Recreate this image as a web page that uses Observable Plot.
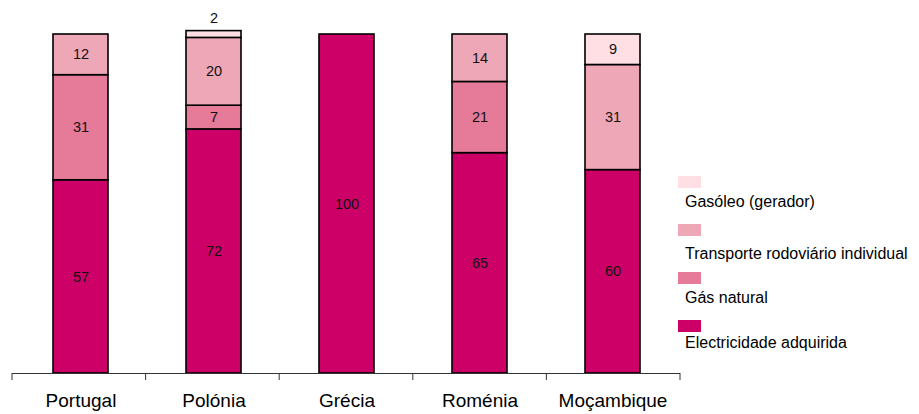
<!DOCTYPE html>
<html>
<head>
<meta charset="utf-8">
<script src="https://cdn.jsdelivr.net/npm/d3@7"></script>
<script src="https://cdn.jsdelivr.net/npm/@observablehq/plot@0.6"></script>
<style>
  html, body { margin: 0; padding: 0; background: #fff; }
  #wrap { position: relative; width: 919px; height: 414px; font-family: Arial, "Liberation Sans", sans-serif; }
  #chart { position: absolute; left: 0; top: 0; }
  .sw { position: absolute; left: 678px; width: 23px; height: 12px; }
  .lt { position: absolute; left: 685px; font-size: 16px; line-height: 16px; color: #000; white-space: nowrap; }
</style>
</head>
<body>
<div id="wrap">
  <div id="chart"></div>
  <div id="legend"></div>
</div>
<script>
// Countries and energy sources
const paises = ["Portugal", "Polónia", "Grécia", "Roménia", "Moçambique"];
const fontes = ["Electricidade adquirida", "Gás natural", "Transporte rodoviário individual", "Gasóleo (gerador)"];

// Share (%) of each source per country
const electricidade = [57, 72, 100, 65, 60];
const gasNatural    = [31, 7, 0, 21, 0];
const transporte    = [12, 20, 0, 14, 31];
const gasoleo       = [0, 2, 0, 0, 9];

const cores = ["#CC0066", "#E67A99", "#EEA7B7", "#FFDFE3"];

const series = [electricidade, gasNatural, transporte, gasoleo];
const rows = [];
series.forEach((vals, s) => {
  vals.forEach((v, i) => {
    if (v > 0) rows.push({pais: paises[i], fonte: fontes[s], valor: v});
  });
});

const stackOpts = {x: "pais", y: "valor", z: "fonte"};

const chart = Plot.plot({
  width: 919,
  height: 414,
  marginLeft: 12,
  marginRight: 239,
  marginTop: 34,
  marginBottom: 41,
  style: {fontFamily: "Arial, 'Liberation Sans', sans-serif", background: "transparent", color: "#000"},
  x: {domain: paises, paddingInner: 0.59, paddingOuter: 0.295, label: null},
  y: {domain: [0, 100], axis: null},
  color: {domain: fontes, range: cores},
  marks: [
    Plot.barY(rows, {...stackOpts, fill: "fonte", stroke: "#000", strokeWidth: 1.6}),
    // values inside segments
    Plot.text(rows.filter(d => d.valor >= 4), Plot.stackY({
      ...stackOpts, text: d => String(d.valor), fontSize: 14.5, fill: "#111", lineAnchor: "middle"
    })),
    // small values are written above the bar
    Plot.text(rows, Plot.stackY2({
      ...stackOpts, text: d => d.valor < 4 ? String(d.valor) : "", fontSize: 14.5, fill: "#111",
      lineAnchor: "middle", dy: -13
    })),
    Plot.ruleY([0], {stroke: "#333", strokeWidth: 1}),
    Plot.axisX({tickSize: 0, tickPadding: 20, fontSize: 19, fill: "#000", label: null})
  ]
});

// tick marks on the category boundaries of the x axis
const xs = chart.scale("x");
const xScale = d3.scaleBand(xs.domain, xs.range).paddingInner(xs.paddingInner).paddingOuter(xs.paddingOuter);
const gap = (xScale.step() - xScale.bandwidth()) / 2;
const y0 = chart.scale("y").apply(0);
const bounds = paises.map(p => xScale(p) - gap).concat([xScale(paises[paises.length - 1]) + xScale.bandwidth() + gap]);
const svg = d3.select(chart.tagName === "svg" ? chart : chart.querySelector("svg"));
svg.append("g")
  .selectAll("line")
  .data(bounds)
  .join("line")
  .attr("x1", d => d).attr("x2", d => d)
  .attr("y1", y0).attr("y2", y0 + 7)
  .attr("stroke", "#333").attr("stroke-width", 1);

document.getElementById("chart").appendChild(chart);

// legend, top entry first
const legend = document.getElementById("legend");
const swatchTops = [176, 224, 272, 320];
const textTops = [194, 246, 290, 335];
const ordem = [3, 2, 1, 0];
ordem.forEach((s, k) => {
  const sw = document.createElement("div");
  sw.className = "sw";
  sw.style.top = swatchTops[k] + "px";
  sw.style.background = cores[s];
  legend.appendChild(sw);
  const t = document.createElement("div");
  t.className = "lt";
  t.style.top = textTops[k] + "px";
  t.textContent = fontes[s];
  legend.appendChild(t);
});
</script>
</body>
</html>
